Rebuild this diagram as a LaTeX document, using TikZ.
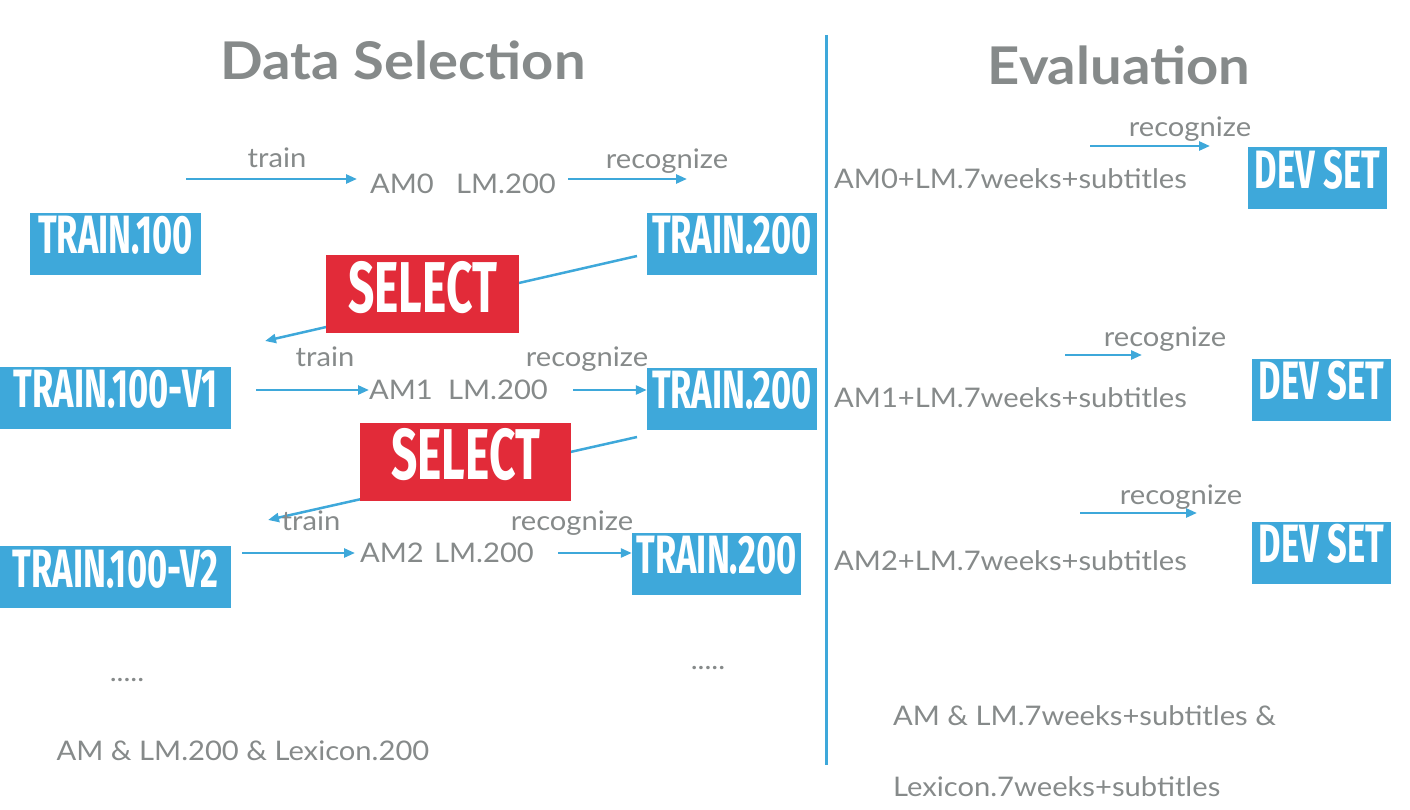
\documentclass[tikz,border=0pt]{standalone}
\usepackage{fontspec}
\setmainfont{Lato}[FakeStretch=1.08]
\newfontfamily\condfont[FakeStretch=0.64]{Fira Sans}
\usetikzlibrary{arrows.meta,backgrounds}
\definecolor{bluebox}{RGB}{62,168,218}
\definecolor{redbox}{RGB}{226,43,57}
\definecolor{txtgray}{RGB}{134,138,138}
\tikzset{
  bbox/.style={fill=bluebox,text=white,inner sep=0pt,minimum height=62pt,text height=30pt,text depth=10pt,font=\condfont\bfseries\fontsize{54}{54}\selectfont},
  rbox/.style={fill=redbox,text=white,inner sep=0pt,minimum height=78pt,text height=46pt,text depth=10pt,font=\condfont\bfseries\fontsize{72}{72}\selectfont},
  lbl/.style={text=txtgray,inner sep=0pt,anchor=base,font=\fontsize{27}{27}\selectfont},
  lblw/.style={lbl,anchor=base west},
  ttl/.style={text=txtgray,inner sep=0pt,anchor=base,font=\bfseries\fontsize{52}{52}\selectfont},
  arr/.style={draw=bluebox,line width=2.5pt,-{Triangle[length=11pt,width=9pt]}},
  sep/.style={draw=bluebox,line width=3pt}
}
\begin{document}
\begin{tikzpicture}[x=1pt,y=-1pt]
\useasboundingbox (0,0) rectangle (1410,810);
% titles
\node[ttl] (t1) at (403,80) {Data Selection};
\node[ttl] (t2) at (1119,85) {Evaluation};
\coordinate (vtop) at (826,35);
\coordinate (vbot) at (826,765);
\draw[sep] (vtop) -- (vbot);
% boxes
\node[bbox,minimum width=171pt] (tr100) at (115.5,244) {TRAIN.100};
\node[bbox,minimum width=170pt] (tr200a) at (732,244) {TRAIN.200};
\node[rbox,minimum width=193pt] (sel1) at (422.5,294) {SELECT};
\node[bbox,minimum width=231pt] (v1) at (115.5,397.5) {TRAIN.100-V1};
\node[bbox,minimum width=170pt] (tr200b) at (732,398.5) {TRAIN.200};
\node[rbox,minimum width=211pt] (sel2) at (465.5,461.5) {SELECT};
\node[bbox,minimum width=231pt] (v2) at (115.5,577) {TRAIN.100-V2};
\node[bbox,minimum width=169pt] (tr200c) at (716.5,563.5) {TRAIN.200};
\node[bbox,minimum width=139pt] (dev1) at (1317.5,178.5) {DEV SET};
\node[bbox,minimum width=139pt] (dev2) at (1321.5,389.5) {DEV SET};
\node[bbox,minimum width=139pt] (dev3) at (1321.5,552.5) {DEV SET};
% select connectors (behind the boxes)
\coordinate (s1a) at (637,256);
\coordinate (s1b) at (265,341);
\coordinate (s2a) at (637,437);
\coordinate (s2b) at (268,520);
\begin{pgfonlayer}{background}
\draw[arr] (s1a) -- (s1b);
\draw[arr] (s2a) -- (s2b);
\end{pgfonlayer}
% row 0
\node[lbl] (am0) at (402,194) {AM0};
\node[lbl] (lm0) at (506,194) {LM.200};
\node[lbl] (tr0) at (277,168) {train};
\node[lbl] (rc0) at (667,169) {recognize};
\coordinate (a0s) at (186,179);
\coordinate (a0e) at (357,179);
\coordinate (b0s) at (568,179);
\coordinate (b0e) at (687,179);
\draw[arr] (a0s) -- (a0e);
\draw[arr] (b0s) -- (b0e);
% row 1
\node[lbl] (am1) at (401,399) {AM1};
\node[lbl] (lm1) at (498,399) {LM.200};
\node[lbl] (tr1) at (325,366) {train};
\node[lbl] (rc1) at (587,366) {recognize};
\coordinate (a1s) at (256,390);
\coordinate (a1e) at (369,390);
\coordinate (b1s) at (573,390);
\draw[arr] (a1s) -- (a1e);
\draw[arr] (b1s) -- (tr200b.west |- b1s);
% row 2
\node[lbl] (am2) at (392,562) {AM2};
\node[lbl] (lm2) at (484,562) {LM.200};
\node[lbl] (tr2) at (311,530) {train};
\node[lbl] (rc2) at (572,530) {recognize};
\coordinate (a2s) at (242,553);
\coordinate (a2e) at (355,553);
\coordinate (b2s) at (558,553);
\draw[arr] (a2s) -- (a2e);
\draw[arr] (b2s) -- (tr200c.west |- b2s);
% dots and footer
\node[lbl] (d1) at (127,681) {.....};
\node[lbl] (d2) at (708,669) {.....};
\node[lbl] (f1) at (243,760) {AM \& LM.200 \& Lexicon.200};
% evaluation side
\node[lblw] (e0) at (834,189) {AM0+LM.7weeks+subtitles};
\node[lblw] (e1) at (834,407) {AM1+LM.7weeks+subtitles};
\node[lblw] (e2) at (834,570) {AM2+LM.7weeks+subtitles};
\node[lbl] (r0) at (1190,137) {recognize};
\node[lbl] (r1) at (1165,346) {recognize};
\node[lbl] (r2) at (1181,504) {recognize};
\coordinate (c0s) at (1090,146);
\coordinate (c0e) at (1210,146);
\coordinate (c1s) at (1065,355);
\coordinate (c1e) at (1142,355);
\coordinate (c2s) at (1080,513);
\coordinate (c2e) at (1197,513);
\draw[arr] (c0s) -- (c0e);
\draw[arr] (c1s) -- (c1e);
\draw[arr] (c2s) -- (c2e);
\node[lblw] (g1) at (893,725) {AM \& LM.7weeks+subtitles \&};
\node[lblw] (g2) at (893,796) {Lexicon.7weeks+subtitles};
\end{tikzpicture}
\end{document}
